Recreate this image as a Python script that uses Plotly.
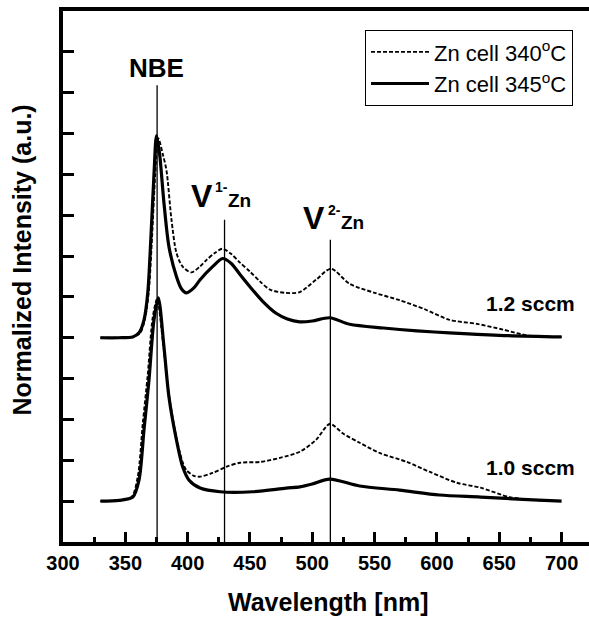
import plotly.graph_objects as go

# ---------------- data ----------------
wl_12_345 = [330, 345, 356, 361, 365, 368, 370.6, 373, 375, 377.4, 381, 385, 391, 395, 399, 405, 410, 420, 428, 435,
             442, 450, 460, 471, 480, 490, 500, 514, 530, 557, 584, 610, 650, 700]
int_12_345 = [5.0, 5.0, 5.02, 5.12, 5.44, 6.1, 7.5, 9.0, 9.95, 9.53, 8.3, 7.23, 6.5, 6.2, 6.1, 6.22, 6.42, 6.74, 6.94, 6.82,
              6.55, 6.25, 5.9, 5.6, 5.46, 5.39, 5.41, 5.49, 5.33, 5.24, 5.17, 5.12, 5.06, 5.02]

wl_12_340 = [330, 345, 356, 362, 366, 369, 371.5, 374, 376.5, 380, 383, 387, 391, 396, 403, 410, 415, 422, 428, 435,
             442, 450, 458, 466, 478, 490, 503, 515, 530, 550, 570, 590, 610, 632, 653, 674, 700]
int_12_340 = [5.0, 5.0, 5.02, 5.12, 5.5, 6.2, 7.5, 9.0, 9.88, 9.5, 9.1, 7.9, 7.08, 6.74, 6.6, 6.75, 6.9, 7.08, 7.18, 7.05,
              6.84, 6.62, 6.38, 6.18, 6.1, 6.12, 6.42, 6.69, 6.32, 6.1, 5.92, 5.7, 5.44, 5.34, 5.2, 5.05, 5.02]

wl_10_345 = [330, 345, 356, 361, 365, 369, 373, 376.5, 381, 385, 391, 396, 401, 410, 426, 452, 479, 490, 500, 514,
             538, 570, 602, 635, 677, 700]
int_10_345 = [1.0, 1.02, 1.1, 1.52, 2.75, 3.97, 5.44, 5.98, 4.78, 3.55, 2.5, 1.84, 1.52, 1.32, 1.23, 1.23, 1.32, 1.35, 1.42, 1.54,
              1.37, 1.27, 1.15, 1.1, 1.03, 1.0]

wl_10_340 = [330, 345, 355, 360, 364, 368, 372, 375.5, 380, 385, 391, 396, 399, 405, 410, 420, 431, 442, 458, 474,
             490, 503, 514, 525, 538, 554, 576, 594, 616, 635, 658, 677, 700]
int_10_340 = [1.0, 1.02, 1.1, 1.6, 2.9, 4.1, 5.5, 5.95, 4.95, 3.6, 2.55, 1.95, 1.76, 1.62, 1.6, 1.69, 1.84, 1.94, 1.96, 2.06,
              2.21, 2.5, 2.89, 2.65, 2.43, 2.18, 1.96, 1.72, 1.45, 1.33, 1.1, 1.03, 1.0]

series_names = ["Zn cell 340<sup>o</sup>C", "Zn cell 345<sup>o</sup>C"]
flow_labels = ["1.2 sccm", "1.0 sccm"]
flow_label_y = [5.83, 1.83]

peak_wl = [375.5, 429.6, 514.5]          # NBE, V1-Zn, V2-Zn marker lines
peak_line_top = [11.18, 7.89, 7.40]

x_ticks = [300, 350, 400, 450, 500, 550, 600, 650, 700]

FONT = "Liberation Sans, Arial, Helvetica, sans-serif"

fig = go.Figure()

dash_style = "4px,2px"
# 1.2 sccm
fig.add_trace(go.Scatter(x=wl_12_340, y=int_12_340, mode="lines", name=series_names[0], legendgroup="a",
                         line=dict(color="black", width=1.9, dash=dash_style, shape="spline", smoothing=0.8)))
fig.add_trace(go.Scatter(x=wl_12_345, y=int_12_345, mode="lines", name=series_names[1], legendgroup="b",
                         line=dict(color="black", width=3.2, shape="spline", smoothing=0.8)))
# 1.0 sccm
fig.add_trace(go.Scatter(x=wl_10_340, y=int_10_340, mode="lines", name=series_names[0], legendgroup="a",
                         showlegend=False,
                         line=dict(color="black", width=1.9, dash=dash_style, shape="spline", smoothing=0.8)))
fig.add_trace(go.Scatter(x=wl_10_345, y=int_10_345, mode="lines", name=series_names[1], legendgroup="b",
                         showlegend=False,
                         line=dict(color="black", width=3.2, shape="spline", smoothing=0.8)))

# peak marker lines
for xw, yt in zip(peak_wl, peak_line_top):
    fig.add_shape(type="line", x0=xw, x1=xw, y0=0, y1=yt, xref="x", yref="y",
                  line=dict(color="black", width=1.3), layer="above")

ann = []
bold = dict(family=FONT, color="black", weight="bold")
# NBE
ann.append(dict(x=375.3, y=11.6, text="NBE", showarrow=False, xanchor="center", yanchor="middle",
                font=dict(size=26, **bold)))
# V1- Zn
ann.append(dict(x=421.6, y=8.47, text="V", showarrow=False, xanchor="right", yanchor="middle",
                font=dict(size=32, **bold)))
ann.append(dict(x=420.2, y=8.68, text="1-", showarrow=False, xanchor="left", yanchor="middle",
                font=dict(size=14, **bold)))
ann.append(dict(x=431.0, y=8.35, text="Zn", showarrow=False, xanchor="left", yanchor="middle",
                font=dict(size=19, **bold)))
# V2- Zn
ann.append(dict(x=511.5, y=7.93, text="V", showarrow=False, xanchor="right", yanchor="middle",
                font=dict(size=32, **bold)))
ann.append(dict(x=510.6, y=8.14, text="2-", showarrow=False, xanchor="left", yanchor="middle",
                font=dict(size=14, **bold)))
ann.append(dict(x=521.6, y=7.81, text="Zn", showarrow=False, xanchor="left", yanchor="middle",
                font=dict(size=19, **bold)))
# flow labels
for t, yv in zip(flow_labels, flow_label_y):
    ann.append(dict(x=712, y=yv, text=t, showarrow=False, xanchor="right", yanchor="middle",
                    font=dict(size=21, **bold)))
# axis titles
ann.append(dict(x=0.504, y=-0.113, xref="paper", yref="paper", text="Wavelength [nm]", showarrow=False,
                xanchor="center", yanchor="middle", font=dict(size=25, **bold)))
ann.append(dict(x=-0.078, y=0.532, xref="paper", yref="paper", text="Normalized Intensity (a.u.)",
                showarrow=False, textangle=-90, xanchor="center", yanchor="middle", font=dict(size=25, **bold)))

fig.update_layout(
    width=589, height=617,
    margin=dict(l=63, r=0, t=11, b=75, pad=0),
    paper_bgcolor="white", plot_bgcolor="white",
    font=dict(family=FONT, color="black"),
    annotations=ann,
    showlegend=True,
    legend=dict(x=0.9696, y=0.964, xanchor="right", yanchor="top",
                bordercolor="black", borderwidth=1, bgcolor="white",
                itemwidth=58, font=dict(size=22, family=FONT, color="black"),
                tracegroupgap=0),
)

fig.update_xaxes(range=[300, 722], showgrid=False, zeroline=False,
                 showline=True, linecolor="black", linewidth=3.5, mirror=True,
                 ticks="inside", tickvals=x_ticks, ticktext=[str(v) for v in x_ticks],
                 ticklen=10, tickwidth=3, tickcolor="black",
                 tickfont=dict(size=20, family=FONT, color="black", weight="bold"),
                 minor=dict(ticks="inside", dtick=25, tick0=300, ticklen=5, tickwidth=3, tickcolor="black",
                            showgrid=False))
fig.update_yaxes(range=[0, 13], showgrid=False, zeroline=False,
                 showline=True, linecolor="black", linewidth=3.5, mirror=False,
                 ticks="inside", tick0=0, dtick=1, ticklen=11, tickwidth=3, tickcolor="black",
                 showticklabels=False)

fig.write_html("out.html")
